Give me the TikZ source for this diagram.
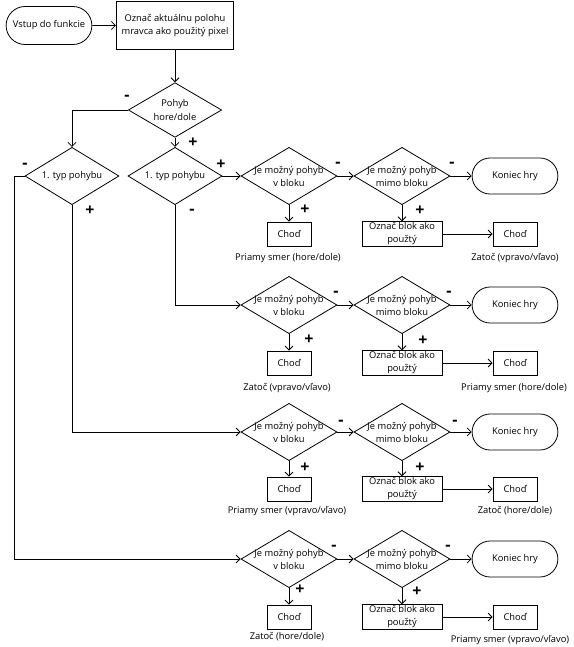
\documentclass[tikz,border=0pt]{standalone}
\usepackage{fontspec}
\setmainfont{Open Sans}
\usetikzlibrary{shapes.geometric, shapes.misc, arrows.meta}

\begin{document}
\begin{tikzpicture} [x = 0.75pt, y = -0.75pt, line width = 0.6pt,
  every node/.style = {font = \fontsize{7pt}{9.8pt}\selectfont},
  term/.style = {draw, rounded rectangle, minimum width = 71pt, minimum height = 27pt},
  proc/.style = {draw, rectangle, align = center, inner sep = 0.5pt},
  chod/.style = {proc, minimum width = 33pt, minimum height = 18pt},
  blok/.style = {proc, minimum width = 60pt, minimum height = 18.5pt},
  decis/.style = {draw, diamond, minimum width = 72pt, minimum height = 43pt, inner sep = 0pt},
  dtext/.style = {align = center},
  sign/.style = {font = \fontsize{12pt}{12pt}\selectfont\bfseries},
  conn/.style = {-{Straight Barb[length = 3pt, width = 6pt]}}]
\useasboundingbox (0, 0) rectangle (574, 647);

% start
\node[term, minimum height = 28.5pt] (start) at (49, 25.5) {Vstup do funkcie};
\node[proc, minimum width = 88pt, minimum height = 36.5pt] (mark) at (175, 25.5) {Označ aktuálnu polohu\\mravca ako použitý pixel};
\node[decis, minimum width = 70pt, minimum height = 41pt] (move) at (175, 110) {};
\node[dtext] at (move) {Pohyb\\hore/dole};
\node[decis, minimum width = 70.5pt] (typL) at (72, 176) {};
\node[dtext] at (typL) {1. typ pohybu};
\node[decis, minimum width = 70.5pt] (typM) at (175, 176) {};
\node[dtext] at (typM) {1. typ pohybu};

% row 1
\node[decis] (r1a) at (289, 176) {};
\node[dtext] at (r1a) {Je možný pohyb\\v bloku};
\node[decis] (r1b) at (402, 176) {};
\node[dtext] at (r1b) {Je možný pohyb\\mimo bloku};
\node[term] (r1e) at (515, 176) {Koniec hry};
\node[chod] (r1c) at (289, 234) {Choď};
\node[blok] (r1d) at (402, 234) {Označ blok ako\\použtý};
\node[chod] (r1f) at (515, 234) {Choď};
\node at (288, 258) {Priamy smer (hore/dole)};
\node at (515, 258) {Zatoč (vpravo/vľavo)};

% row 2
\node[decis] (r2a) at (289, 305) {};
\node[dtext] at (r2a) {Je možný pohyb\\v bloku};
\node[decis] (r2b) at (402, 305) {};
\node[dtext] at (r2b) {Je možný pohyb\\mimo bloku};
\node[term] (r2e) at (515, 305) {Koniec hry};
\node[chod] (r2c) at (289, 363) {Choď};
\node[blok] (r2d) at (402, 363) {Označ blok ako\\použtý};
\node[chod] (r2f) at (515, 363) {Choď};
\node at (287, 388) {Zatoč (vpravo/vľavo)};
\node at (514, 388) {Priamy smer (hore/dole)};

% row 3
\node[decis] (r3a) at (289, 432) {};
\node[dtext] at (r3a) {Je možný pohyb\\v bloku};
\node[decis] (r3b) at (402, 432) {};
\node[dtext] at (r3b) {Je možný pohyb\\mimo bloku};
\node[term] (r3e) at (515, 432) {Koniec hry};
\node[chod] (r3c) at (289, 489) {Choď};
\node[blok] (r3d) at (402, 489) {Označ blok ako\\použtý};
\node[chod] (r3f) at (515, 489) {Choď};
\node at (287, 511) {Priamy smer (vpravo/vľavo)};
\node at (515, 511) {Zatoč (hore/dole)};

% row 4
\node[decis] (r4a) at (289, 559) {};
\node[dtext] at (r4a) {Je možný pohyb\\v bloku};
\node[decis] (r4b) at (402, 559) {};
\node[dtext] at (r4b) {Je možný pohyb\\mimo bloku};
\node[term] (r4e) at (515, 559) {Koniec hry};
\node[chod] (r4c) at (289, 617) {Choď};
\node[blok] (r4d) at (402, 617) {Označ blok ako\\použtý};
\node[chod] (r4f) at (515, 617) {Choď};
\node at (287, 637) {Zatoč (hore/dole)};
\node[anchor = east] at (574, 640) {Priamy smer (vpravo/vľavo)};

% connectors
\draw[conn] (start) -- (mark);
\draw[conn] (mark) -- (move);
\draw[conn] (move.west) -| (typL.north);
\draw[conn] (move) -- (typM);
\draw[conn] (typM) -- (r1a);
\draw[conn] (typM.south) |- (r2a.west);
\draw[conn] (typL.south) |- (r3a.west);
\coordinate (bend) at (14, 176);
\draw[conn] (typL.west) -- (bend) |- (r4a.west);
\draw[conn] (r1a) -- (r1b);
\draw[conn] (r1b) -- (r1e);
\draw[conn] (r1a) -- (r1c);
\draw[conn] (r1b) -- (r1d);
\draw[conn] (r1d) -- (r1f);
\draw[conn] (r2a) -- (r2b);
\draw[conn] (r2b) -- (r2e);
\draw[conn] (r2a) -- (r2c);
\draw[conn] (r2b) -- (r2d);
\draw[conn] (r2d) -- (r2f);
\draw[conn] (r3a) -- (r3b);
\draw[conn] (r3b) -- (r3e);
\draw[conn] (r3a) -- (r3c);
\draw[conn] (r3b) -- (r3d);
\draw[conn] (r3d) -- (r3f);
\draw[conn] (r4a) -- (r4b);
\draw[conn] (r4b) -- (r4e);
\draw[conn] (r4a) -- (r4c);
\draw[conn] (r4b) -- (r4d);
\draw[conn] (r4d) -- (r4f);

% signs
\node[sign] at (127, 98) {-};
\node[sign] at (193, 143) {+};
\node[sign] at (25, 166) {-};
\node[sign] at (90, 211) {+};
\node[sign] at (221, 165) {+};
\node[sign] at (192, 212) {-};
\node[sign] at (338, 165) {-};
\node[sign] at (452, 165) {-};
\node[sign] at (305, 210) {+};
\node[sign] at (420, 211) {+};
\node[sign] at (336, 294) {-};
\node[sign] at (449, 294) {-};
\node[sign] at (309, 340) {+};
\node[sign] at (423, 341) {+};
\node[sign] at (341, 423) {-};
\node[sign] at (455, 423) {-};
\node[sign] at (305, 468) {+};
\node[sign] at (420, 468) {+};
\node[sign] at (334, 548) {-};
\node[sign] at (448, 548) {-};
\node[sign] at (300, 590) {+};
\node[sign] at (417, 592) {+};
\end{tikzpicture}
\end{document}
